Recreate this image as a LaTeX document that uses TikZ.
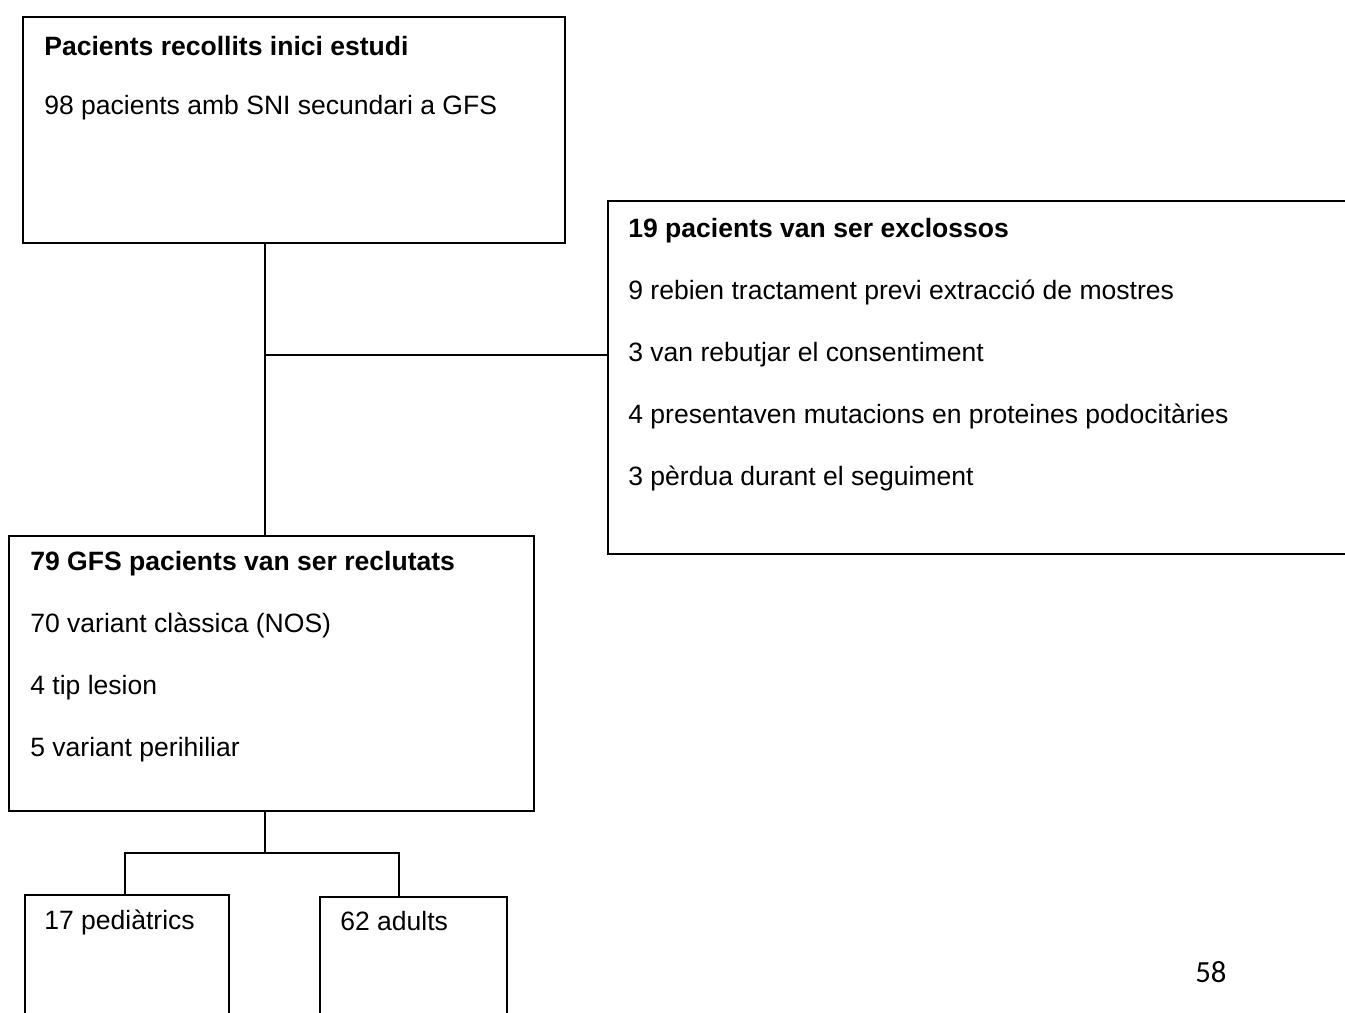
\documentclass[tikz,border=0pt]{standalone}
\usepackage{fontspec}
\setmainfont{Liberation Sans}
\newfontfamily\pagefont{Carlito}
\usepackage{tikz}
\usetikzlibrary{positioning,calc}

\tikzset{
  box/.style={draw,line width=1.2pt,inner sep=0pt,anchor=north west},
  txt/.style={anchor=base west,inner sep=0pt,font=\fontsize{15.1}{18}\selectfont},
  link/.style={line width=1.2pt}
}

\begin{document}
\begin{tikzpicture}[x=0.02cm,y=-0.02cm]
        \useasboundingbox (0,0) rectangle (1345,1012);
        % boxes
        \node[box,minimum width=10.84cm,minimum height=4.52cm] (inici) at (22,16) {};
        \node[box,minimum width=15.2cm,minimum height=7.06cm] (excl) at (607,200) {};
        \node[box,minimum width=10.5cm,minimum height=5.5cm] (recl) at (8,535) {};
        \node[box,minimum width=4.08cm,minimum height=2.8cm] (ped) at (24,894) {};
        \node[box,minimum width=3.74cm,minimum height=2.8cm] (adu) at (319,896) {};
        % texts
        \node[txt] (inici1) at (44,55) {\textbf{Pacients recollits inici estudi}};
        \node[txt] (inici2) at (44,114) {98 pacients amb SNI secundari a GFS};
        \node[txt] (excl1) at (628,237) {\textbf{19 pacients van ser exclossos}};
        \node[txt] (excl2) at (628,299) {9 rebien tractament previ extracció de mostres};
        \node[txt] (excl3) at (628,361) {3 van rebutjar el consentiment};
        \node[txt] (excl4) at (628,423) {4 presentaven mutacions en proteines podocitàries};
        \node[txt] (excl5) at (628,485) {3 pèrdua durant el seguiment};
        \node[txt] (recl1) at (30,570) {\textbf{79 GFS pacients van ser reclutats}};
        \node[txt] (recl2) at (30,632) {70 variant clàssica (NOS)};
        \node[txt] (recl3) at (30,694) {4 tip lesion};
        \node[txt] (recl4) at (30,756) {5 variant perihiliar};
        \node[txt] (ped1) at (44,929) {17 pediàtrics};
        \node[txt] (adu1) at (340,930) {62 adults};
        \node[txt,font=\pagefont\fontsize{17.5}{20}\selectfont] (pagenum) at (1195,982) {58};
        % connectors
        \coordinate (split1) at (265,355);
        \coordinate (split2) at (265,853);
        \coordinate (lft) at (125,853);
        \coordinate (rgt) at (399,853);
        \draw[link] (inici.south -| split1) -- (recl.north -| split1);
        \draw[link] (split1) -- (split1 -| excl.west);
        \draw[link] (recl.south -| split2) -- (split2);
        \draw[link] (lft |- ped.north) -- (lft) -- (rgt) -- (rgt |- adu.north);
\end{tikzpicture}
\end{document}
